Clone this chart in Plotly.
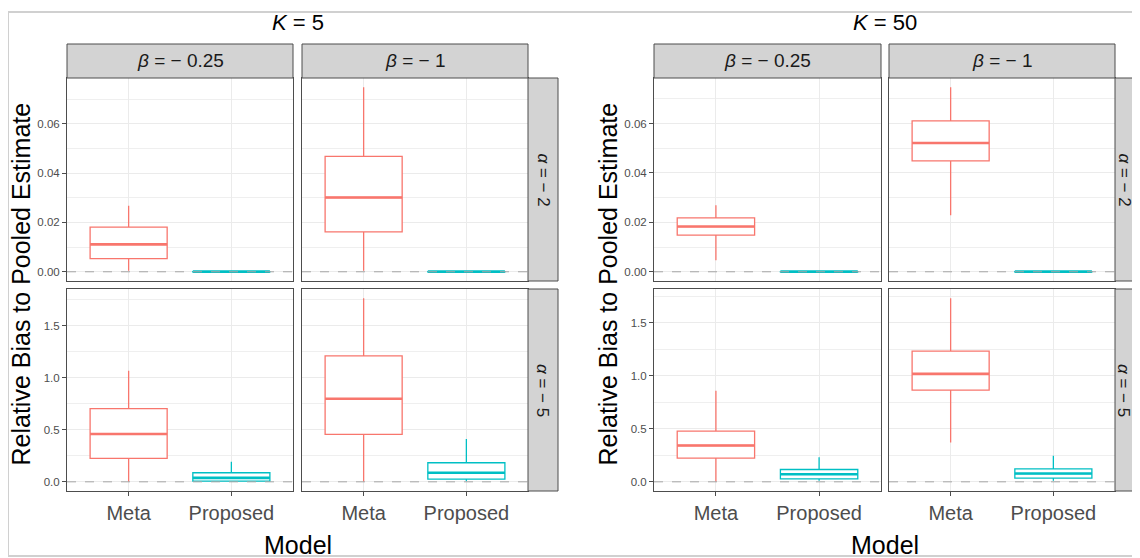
import plotly.graph_objects as go

# ---------------- data (lower whisker, Q1, median, Q3, upper whisker) ----------------
models = ["Meta", "Proposed"]
group_titles = ["<i>K</i> = 5", "<i>K</i> = 50"]
beta_labels = ["<i>β</i> = − 0.25", "<i>β</i> = − 1"]
alpha_labels = ["<i>α</i> = − 2", "<i>α</i> = − 5"]

k5_a2_b025_meta = [0.0004, 0.0053, 0.0111, 0.0181, 0.0268]
k5_a2_b025_prop = [0.0, 0.0, 0.00005, 0.0001, 0.0001]
k5_a2_b1_meta = [0.0004, 0.0162, 0.0301, 0.0468, 0.0748]
k5_a2_b1_prop = [0.0, 0.0, 0.00005, 0.0001, 0.0001]
k5_a5_b025_meta = [0.0, 0.225, 0.459, 0.702, 1.067]
k5_a5_b025_prop = [0.0, 0.007, 0.038, 0.087, 0.192]
k5_a5_b1_meta = [0.0, 0.456, 0.798, 1.209, 1.763]
k5_a5_b1_prop = [0.006, 0.026, 0.087, 0.183, 0.410]

k50_a2_b025_meta = [0.0047, 0.0148, 0.0183, 0.0218, 0.0269]
k50_a2_b025_prop = [0.0, 0.0, 0.00005, 0.0001, 0.0001]
k50_a2_b1_meta = [0.0229, 0.0449, 0.0521, 0.0611, 0.0747]
k50_a2_b1_prop = [0.0, 0.0, 0.00005, 0.0001, 0.0001]
k50_a5_b025_meta = [0.0, 0.223, 0.342, 0.477, 0.857]
k50_a5_b025_prop = [0.010, 0.028, 0.072, 0.116, 0.232]
k50_a5_b1_meta = [0.370, 0.863, 1.017, 1.231, 1.730]
k50_a5_b1_prop = [0.010, 0.035, 0.078, 0.122, 0.245]

panels = {
    (0, 0, 0): [k5_a2_b025_meta, k5_a2_b025_prop],
    (0, 0, 1): [k5_a2_b1_meta, k5_a2_b1_prop],
    (0, 1, 0): [k5_a5_b025_meta, k5_a5_b025_prop],
    (0, 1, 1): [k5_a5_b1_meta, k5_a5_b1_prop],
    (1, 0, 0): [k50_a2_b025_meta, k50_a2_b025_prop],
    (1, 0, 1): [k50_a2_b1_meta, k50_a2_b1_prop],
    (1, 1, 0): [k50_a5_b025_meta, k50_a5_b025_prop],
    (1, 1, 1): [k50_a5_b1_meta, k50_a5_b1_prop],
}

colors = ["#F8766D", "#00BFC4"]
OFF = 8  # page body margin
W, H = 1140 - OFF, 558 - OFF
FONT = "Liberation Sans, Arial, Helvetica, sans-serif"

def X(px):
    return (px - OFF) / W

def Y(py):
    return 1 - (py - OFF) / H

group_cols = [[(67, 293), (302, 528)], [(654, 881), (889, 1115)]]
rows = [(78, 281), (289, 491)]
strip_top = 44
strip_w = 30
strip_text_dx = [15, 9]
BORDER = "#4D4D4D"

fig = go.Figure()
layout = {}
shapes = []
annotations = []

idx = 0
for g in range(2):
    for r in range(2):
        vals = [v for c in range(2) for s in panels[(g, r, c)] for v in s]
        mn, mx = min(vals), max(vals)
        pad = 0.05 * (mx - mn)
        yrange = [mn - pad, mx + pad]
        dt = 0.02 if r == 0 else 0.5
        fmt = ".2f" if r == 0 else ".1f"
        for c in range(2):
            idx += 1
            xa = "x" if idx == 1 else f"x{idx}"
            ya = "y" if idx == 1 else f"y{idx}"
            xk = "xaxis" if idx == 1 else f"xaxis{idx}"
            yk = "yaxis" if idx == 1 else f"yaxis{idx}"
            x0, x1 = group_cols[g][c]
            y0, y1 = rows[r]
            for m in range(2):
                lo, q1, med, q3, hi = panels[(g, r, c)][m]
                fig.add_trace(go.Box(
                    x=[m + 1], q1=[q1], median=[med], q3=[q3],
                    lowerfence=[lo], upperfence=[hi],
                    width=0.75, whiskerwidth=0,
                    fillcolor="white",
                    line=dict(color=colors[m], width=1.3),
                    xaxis=xa, yaxis=ya, showlegend=False,
                    hoverinfo="skip", boxpoints=False,
                ))
                fig.add_trace(go.Scatter(
                    x=[m + 1 - 0.375, m + 1 + 0.375], y=[med, med],
                    mode="lines", line=dict(color=colors[m], width=2.6),
                    xaxis=xa, yaxis=ya, showlegend=False, hoverinfo="skip",
                ))
            layout[xk] = dict(
                domain=[X(x0), X(x1)], anchor=ya, range=[0.4, 2.6],
                tickvals=[1, 2], ticktext=models if r == 1 else ["", ""],
                showticklabels=(r == 1), ticks="outside" if r == 1 else "",
                ticklen=4, tickcolor=BORDER, tickwidth=1,
                tickfont=dict(size=20, color="#4D4D4D", family=FONT),
                showgrid=True, gridcolor="#EBEBEB", gridwidth=1.2,
                showline=True, mirror=True, linecolor=BORDER, linewidth=1,
                zeroline=False, fixedrange=True,
            )
            layout[yk] = dict(
                domain=[Y(y1), Y(y0)], anchor=xa, range=yrange,
                dtick=dt, tick0=0, tickformat=fmt,
                showticklabels=(c == 0), ticks="outside" if c == 0 else "",
                ticklen=4, tickcolor=BORDER, tickwidth=1,
                tickfont=dict(size=11.5, color="#4D4D4D", family=FONT),
                showgrid=True, gridcolor="#EBEBEB", gridwidth=1.2,
                minor=dict(dtick=dt / 2, tick0=0, showgrid=True,
                           gridcolor="#EFEFEF", gridwidth=0.8, ticks=""),
                showline=True, mirror=True, linecolor=BORDER, linewidth=1,
                zeroline=False, fixedrange=True,
            )
            shapes.append(dict(
                type="line", xref=f"{xa} domain", yref=ya,
                x0=0, x1=1, y0=0, y1=0, layer="above",
                line=dict(color="#A6A6A6", width=1, dash="dash"),
            ))
            if r == 0:
                shapes.append(dict(
                    type="rect", xref="paper", yref="paper",
                    x0=X(x0), x1=X(x1), y0=Y(y0), y1=Y(strip_top),
                    fillcolor="#D3D3D3", line=dict(color=BORDER, width=1),
                ))
                annotations.append(dict(
                    xref="paper", yref="paper", x=X((x0 + x1) / 2),
                    y=Y((strip_top + y0) / 2), text=beta_labels[c],
                    showarrow=False, xanchor="center", yanchor="middle",
                    font=dict(size=19, color="#1A1A1A", family=FONT),
                ))
            if c == 1:
                shapes.append(dict(
                    type="rect", xref="paper", yref="paper",
                    x0=X(x1), x1=X(x1 + strip_w), y0=Y(y1), y1=Y(y0),
                    fillcolor="#D3D3D3", line=dict(color=BORDER, width=1),
                ))
                annotations.append(dict(
                    xref="paper", yref="paper", x=X(x1 + strip_text_dx[g]),
                    y=Y((y0 + y1) / 2), text=alpha_labels[r], textangle=90,
                    showarrow=False, xanchor="center", yanchor="middle",
                    font=dict(size=17, color="#1A1A1A", family=FONT),
                ))

    gx0 = group_cols[g][0][0]
    gx1 = group_cols[g][1][1]
    cx = (gx0 + gx1) / 2
    annotations.append(dict(
        xref="paper", yref="paper", x=X(cx), y=Y(23), text=group_titles[g],
        showarrow=False, xanchor="center", yanchor="middle",
        font=dict(size=22, color="black", family=FONT),
    ))
    annotations.append(dict(
        xref="paper", yref="paper", x=X(cx), y=Y(545), text="Model",
        showarrow=False, xanchor="center", yanchor="middle",
        font=dict(size=25, color="black", family=FONT),
    ))
    annotations.append(dict(
        xref="paper", yref="paper", x=X(gx0 - 47), y=Y((rows[0][0] + rows[1][1]) / 2),
        text="Relative Bias to Pooled Estimate", textangle=-90,
        showarrow=False, xanchor="center", yanchor="middle",
        font=dict(size=25, color="black", family=FONT),
    ))

shapes.insert(0, dict(
    type="rect", xref="paper", yref="paper",
    x0=X(8), x1=X(1150), y0=Y(556), y1=Y(12), layer="below",
    line=dict(color="#D0D0D0", width=2), fillcolor="rgba(0,0,0,0)",
))

layout.update(dict(
    width=W, height=H, margin=dict(l=0, r=0, t=0, b=0),
    paper_bgcolor="white", plot_bgcolor="white",
    shapes=shapes, annotations=annotations, showlegend=False,
    font=dict(family=FONT),
))
fig.update_layout(**layout)
fig.write_html("out.html", config={"displayModeBar": False})
